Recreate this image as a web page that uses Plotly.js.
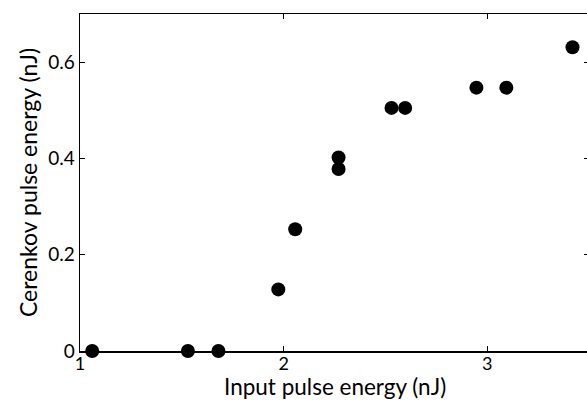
<!DOCTYPE html>
<html>
<head>
<meta charset="utf-8">
<script src="https://cdn.plot.ly/plotly-3.0.1.min.js"></script>
<style>html,body{margin:0;padding:0;overflow:hidden;background:#fff;}#chart{width:589px;height:402px;}</style>
</head>
<body>
<div id="chart"></div>
<script>
const inputEnergy = [1.06, 1.53, 1.68, 1.974, 2.057, 2.27, 2.27, 2.53, 2.597, 2.947, 3.094, 3.419];
const cerenkovEnergy = [0, 0, 0, 0.128, 0.253, 0.402, 0.378, 0.505, 0.505, 0.547, 0.547, 0.631];
const xTicks = [1, 2, 3];
const xTickLabels = ['1', '2', '3'];
const yTicks = [0, 0.2, 0.4, 0.6];
const yTickLabels = ['0', '0.2', '0.4', '0.6'];
const xTitle = 'Input pulse energy (nJ)';
const yTitle = 'Cerenkov pulse energy (nJ)';

const font = 'Lato, Open Sans, sans-serif';
Plotly.newPlot('chart', [{
  x: inputEnergy, y: cerenkovEnergy, type: 'scatter', mode: 'markers',
  marker: {color: '#000', size: 14}, cliponaxis: false, hoverinfo: 'none'
}], {
  width: 589, height: 402,
  margin: {l: 80, r: 0, t: 14, b: 51},
  paper_bgcolor: '#fff', plot_bgcolor: '#fff',
  showlegend: false,
  font: {family: font, color: '#000'},
  xaxis: {
    range: [1, 3.5], tickvals: xTicks, ticktext: xTickLabels,
    ticks: 'inside', ticklen: 5, tickwidth: 1, tickcolor: '#000',
    showline: true, linecolor: '#000', linewidth: 1.5, mirror: 'ticks',
    showgrid: false, zeroline: false, ticklabelstandoff: -4,
    tickfont: {size: 18, family: font}
  },
  yaxis: {
    range: [0, 0.7], tickvals: yTicks, ticktext: yTickLabels,
    ticks: 'inside', ticklen: 5, tickwidth: 1, tickcolor: '#000',
    showline: true, linecolor: '#000', linewidth: 1.5, mirror: 'ticks',
    showgrid: false, zeroline: false,
    tickfont: {size: 19, family: font},
    title: {text: yTitle, font: {size: 23, family: font}, standoff: 4}
  },
  annotations: [{
    text: xTitle, xref: 'paper', yref: 'paper', x: 0.5, y: -0.148,
    xanchor: 'center', yanchor: 'bottom', showarrow: false,
    font: {size: 22.5, family: font, color: '#000'}, borderpad: 0
  }]
}, {staticPlot: true});
</script>
</body>
</html>
